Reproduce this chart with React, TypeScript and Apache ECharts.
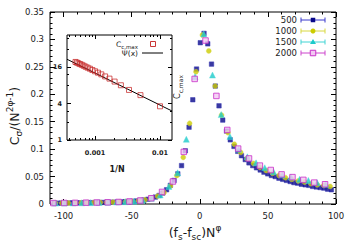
import React, { useEffect, useRef } from "react";
import * as echarts from "echarts";

// ---------- tick values ----------
const X_MAJOR = [-100, -50, 0, 50, 100];
const INSET_X_MAJOR = [0.001, 0.01];
const INSET_X_MINOR = [0.0004, 0.0005, 0.0006, 0.0007, 0.0008, 0.0009, 0.002, 0.003, 0.004, 0.005, 0.006, 0.007, 0.008, 0.009];
const INSET_Y_MAJOR = [1, 4, 16];
const INSET_Y_MINOR = [2, 3, 8, 12, 32, 48];

// ---------- main data ----------
const N_LABELS = ["500", "1000", "1500", "2000"];

const X_500 = [-106.9, -104.15, -101.4, -98.65, -95.9, -93.15, -90.4, -87.65, -84.9, -82.15, -79.4, -76.65, -73.9, -71.15, -68.4, -65.65, -62.9, -60.15, -57.4, -54.65, -51.9, -49.15, -46.4, -43.65, -40.9, -38.15, -35.4, -32.65, -29.9, -27.15, -24.4, -21.65, -18.9, -16.15, -13.4, -10.65, -7.9, -5.15, -2.4, 0.35, 3.1, 5.85, 8.6, 11.35, 14.1, 16.85, 19.6, 22.35, 25.1, 27.85, 30.6, 33.35, 36.1, 38.85, 41.6, 44.35, 47.1, 49.85, 52.6, 55.35, 58.1, 60.85, 63.6, 66.35, 69.1, 71.85, 74.6, 77.35, 80.1, 82.85, 85.6, 88.35, 91.1, 93.85, 96.6];
const Y_500 = [0.0015, 0.0016, 0.0017, 0.0018, 0.0019, 0.002, 0.0021, 0.0022, 0.0023, 0.0024, 0.0025, 0.0026, 0.0027, 0.0029, 0.003, 0.0032, 0.0034, 0.0036, 0.0039, 0.0042, 0.0046, 0.005, 0.0056, 0.0064, 0.0074, 0.0087, 0.0104, 0.0126, 0.0155, 0.02, 0.026, 0.034, 0.043, 0.055, 0.07, 0.097, 0.14, 0.19, 0.246, 0.294, 0.311, 0.292, 0.255, 0.215, 0.179, 0.153, 0.133, 0.117, 0.105, 0.096, 0.088, 0.081, 0.075, 0.07, 0.066, 0.062, 0.058, 0.055, 0.052, 0.05, 0.047, 0.045, 0.043, 0.041, 0.039, 0.038, 0.036, 0.035, 0.034, 0.032, 0.031, 0.03, 0.029, 0.027, 0.026];

const X_1000 = [-105.97, -101.28, -96.59, -91.9, -87.21, -82.52, -77.83, -73.14, -68.45, -63.76, -59.07, -54.38, -49.69, -45.0, -40.31, -35.62, -30.93, -26.24, -21.55, -16.86, -12.17, -7.48, -2.79, 1.9, 6.59, 11.28, 15.97, 20.66, 25.35, 30.04, 34.73, 39.42, 44.11, 48.8, 53.49, 58.18, 62.87, 67.56, 72.25, 76.94, 81.63, 86.32, 91.01, 95.7];
const Y_1000 = [0.0015, 0.0017, 0.0018, 0.002, 0.0022, 0.0024, 0.0026, 0.0028, 0.003, 0.0033, 0.0037, 0.0042, 0.0049, 0.006, 0.0076, 0.0101, 0.0143, 0.021, 0.033, 0.052, 0.085, 0.147, 0.241, 0.308, 0.279, 0.215, 0.162, 0.13, 0.109, 0.094, 0.083, 0.074, 0.067, 0.061, 0.056, 0.052, 0.048, 0.045, 0.042, 0.04, 0.037, 0.035, 0.034, 0.032];

const X_1500 = [-105.9, -99.5, -93.1, -86.7, -80.3, -73.9, -67.5, -61.1, -54.7, -48.3, -41.9, -35.5, -29.1, -22.7, -16.3, -9.9, -3.5, 2.9, 9.3, 15.7, 22.1, 28.5, 34.9, 41.3, 47.7, 54.1, 60.5, 66.9, 73.3, 79.7, 86.1, 92.5];
const Y_1500 = [0.0016, 0.0018, 0.002, 0.0022, 0.0025, 0.0028, 0.0031, 0.0036, 0.0042, 0.0052, 0.0069, 0.0103, 0.0165, 0.032, 0.057, 0.118, 0.232, 0.31, 0.235, 0.163, 0.123, 0.1, 0.086, 0.075, 0.066, 0.059, 0.053, 0.049, 0.045, 0.043, 0.039, 0.036];

const X_2000 = [-107.52, -99.54, -91.56, -83.58, -75.6, -67.62, -59.64, -51.66, -43.68, -35.7, -27.72, -19.74, -11.76, -3.78, 4.2, 12.18, 20.16, 28.14, 36.12, 44.1, 52.08, 60.06, 68.04, 76.02, 84.0, 91.98];
const Y_2000 = [0.0017, 0.0019, 0.0021, 0.0024, 0.0027, 0.0031, 0.0037, 0.0046, 0.0064, 0.0105, 0.022, 0.041, 0.095, 0.228, 0.298, 0.197, 0.135, 0.101, 0.083, 0.07, 0.062, 0.054, 0.049, 0.044, 0.039, 0.036];

// ---------- inset data ----------
const INSET_N = [100, 200, 300, 400, 500, 600, 700, 800, 900, 1000, 1100, 1200, 1300, 1400, 1500, 1600, 1700, 1800, 1900, 2000];
const INSET_C = [3.6, 5.5, 6.7, 8.0, 9.2, 10.3, 11.2, 12.1, 12.9, 13.6, 14.3, 15.0, 15.6, 16.2, 16.8, 17.4, 17.9, 18.4, 18.9, 19.4];
const FIT_X = [0.00037, 0.0153];
const FIT_Y = [21.5, 3.01];

const FONT = "DejaVu Sans";
const TXT = "#1a1a1a";

const STYLES = [
  { symbol: "rect", size: 4.5, color: "#08088a", border: "#3434b4", bw: 0.6, legend: "#3a3acc" },
  { symbol: "circle", size: 5, color: "#cccc00", border: "#dada40", bw: 0.5, legend: "#d8d840" },
  { symbol: "triangle", size: 6, color: "#1ccaca", border: "#50dada", bw: 0.5, legend: "#40d4d4" },
  { symbol: "rect", size: 5.5, color: "#f2c8f2", border: "#c830c8", bw: 1, legend: "#cc44cc" },
];

export default function App() {
  const ref = useRef<HTMLDivElement>(null);

  useEffect(() => {
    const chart = echarts.init(ref.current!, null, { renderer: "svg" });
    const tickLine = { color: "#000", width: 1 };
    const noLine = { show: false, onZero: false };

    const mainX = (pos: string, major: boolean) => ({
      gridIndex: 0,
      type: "value",
      min: -110,
      max: 100,
      position: pos,
      ...(major ? {} : { interval: 10 }),
      axisLine: noLine,
      splitLine: { show: false },
      axisTick: major
        ? { show: true, inside: true, length: 5, customValues: X_MAJOR, lineStyle: tickLine }
        : { show: true, inside: true, length: 2.5, lineStyle: tickLine },
      axisLabel:
        pos === "bottom" && major
          ? { show: true, customValues: X_MAJOR, fontSize: 8.5, fontFamily: FONT, color: TXT, margin: 7 }
          : { show: false },
    });

    const mainY = (pos: string) => ({
      gridIndex: 0,
      type: "value",
      min: 0,
      max: 0.35,
      interval: 0.05,
      position: pos,
      axisLine: noLine,
      splitLine: { show: false },
      axisTick: { show: true, inside: true, length: 5, lineStyle: tickLine },
      minorTick: { show: true, splitNumber: 5, length: 2.5, lineStyle: tickLine },
      axisLabel:
        pos === "left"
          ? {
              show: true,
              fontSize: 8.5,
              fontFamily: FONT,
              color: TXT,
              margin: 6,
              formatter: (v: number) => String(parseFloat(v.toFixed(2))),
            }
          : { show: false },
    });

    const insetX = (pos: string, major: boolean) => ({
      gridIndex: 1,
      type: "log",
      min: 0.00037,
      max: 0.0153,
      position: pos,
      axisLine: noLine,
      splitLine: { show: false },
      minorTick: { show: false },
      axisTick: {
        show: true,
        inside: true,
        length: major ? 4 : 2,
        customValues: major ? INSET_X_MAJOR : INSET_X_MINOR,
        lineStyle: tickLine,
      },
      axisLabel:
        pos === "bottom" && major
          ? {
              show: true,
              customValues: INSET_X_MAJOR,
              fontSize: 6.5,
              fontWeight: "bold",
              fontFamily: FONT,
              color: TXT,
              margin: 9,
              formatter: (v: number) => (v < 0.005 ? "0.001" : "0.01"),
            }
          : { show: false },
    });

    const insetY = (pos: string, major: boolean) => ({
      gridIndex: 1,
      type: "log",
      min: 1,
      max: 54,
      position: pos,
      axisLine: noLine,
      splitLine: { show: false },
      minorTick: { show: false },
      axisTick: {
        show: true,
        inside: true,
        length: major ? 4 : 2,
        customValues: major ? INSET_Y_MAJOR : INSET_Y_MINOR,
        lineStyle: tickLine,
      },
      axisLabel:
        pos === "left" && major
          ? {
              show: true,
              customValues: INSET_Y_MAJOR,
              fontSize: 6.5,
              fontWeight: "bold",
              fontFamily: FONT,
              color: TXT,
              margin: 5,
            }
          : { show: false },
    });

    const mainData = [
      [X_500, Y_500],
      [X_1000, Y_1000],
      [X_1500, Y_1500],
      [X_2000, Y_2000],
    ];

    const mainSeries = mainData.map(([xs, ys], i) => ({
      type: "scatter",
      name: N_LABELS[i],
      xAxisIndex: 0,
      yAxisIndex: 0,
      symbol: STYLES[i].symbol,
      symbolSize: STYLES[i].size,
      itemStyle: { color: STYLES[i].color, borderColor: STYLES[i].border, borderWidth: STYLES[i].bw },
      data: xs.map((x, k) => [x, ys[k]]),
      z: 2 + i,
    }));

    const legendEls: any[] = [];
    N_LABELS.forEach((name, i) => {
      const y = 20 + 11 * i;
      const c = STYLES[i].legend;
      legendEls.push({
        type: "text",
        x: 297,
        y,
        style: { text: name, fontSize: 8.5, fontFamily: FONT, fill: TXT, align: "right", verticalAlign: "middle" },
      });
      legendEls.push({ type: "line", shape: { x1: 301, y1: y, x2: 325, y2: y }, style: { stroke: c, lineWidth: 1 } });
      legendEls.push({ type: "line", shape: { x1: 301, y1: y - 2.5, x2: 301, y2: y + 2.5 }, style: { stroke: c, lineWidth: 1 } });
      legendEls.push({ type: "line", shape: { x1: 325, y1: y - 2.5, x2: 325, y2: y + 2.5 }, style: { stroke: c, lineWidth: 1 } });
      if (i === 0) {
        legendEls.push({ type: "rect", shape: { x: 310.75, y: y - 2.25, width: 4.5, height: 4.5 }, style: { fill: STYLES[0].color } });
      } else if (i === 1) {
        legendEls.push({ type: "circle", shape: { cx: 313, cy: y, r: 2.5 }, style: { fill: STYLES[1].color } });
      } else if (i === 2) {
        legendEls.push({
          type: "polygon",
          shape: { points: [[313, y - 3], [310, y + 2], [316, y + 2]] },
          style: { fill: STYLES[2].color },
        });
      } else {
        legendEls.push({
          type: "rect",
          shape: { x: 310.25, y: y - 2.75, width: 5.5, height: 5.5 },
          style: { fill: STYLES[3].color, stroke: STYLES[3].border, lineWidth: 1 },
        });
      }
    });

    const option: any = {
      animation: false,
      backgroundColor: "#fff",
      textStyle: { fontFamily: FONT },
      grid: [
        { left: 50, top: 12, width: 286, height: 192, show: true, borderColor: "#000", borderWidth: 1, backgroundColor: "transparent" },
        { left: 67, top: 35, width: 105, height: 105, show: true, borderColor: "#000", borderWidth: 1, backgroundColor: "#fff" },
      ],
      xAxis: [
        mainX("bottom", true),
        mainX("bottom", false),
        mainX("top", true),
        mainX("top", false),
        insetX("bottom", true),
        insetX("bottom", false),
        insetX("top", true),
        insetX("top", false),
      ],
      yAxis: [
        mainY("left"),
        mainY("right"),
        insetY("left", true),
        insetY("left", false),
        insetY("right", true),
        insetY("right", false),
      ],
      series: [
        ...mainSeries,
        {
          type: "line",
          xAxisIndex: 4,
          yAxisIndex: 2,
          data: FIT_X.map((x, k) => [x, FIT_Y[k]]),
          showSymbol: false,
          symbol: "none",
          lineStyle: { color: "#000", width: 1 },
          z: 5,
        },
        {
          type: "scatter",
          xAxisIndex: 4,
          yAxisIndex: 2,
          symbol: "rect",
          symbolSize: 5,
          itemStyle: { color: "rgba(255,255,255,0)", borderColor: "#c42020", borderWidth: 0.9 },
          data: INSET_N.map((n, k) => [1 / n, INSET_C[k]]),
          z: 6,
        },
      ],
      graphic: [
        // main axis titles
        {
          type: "text",
          x: 195,
          y: 232,
          style: {
            text: "(f{sub|s}-f{sub|sc})N{sup|φ}",
            fontSize: 12.5,
            fontFamily: FONT,
            fill: TXT,
            align: "center",
            verticalAlign: "middle",
            lineHeight: 18,
            rich: {
              sub: { fontSize: 9, fontFamily: FONT, fill: TXT, verticalAlign: "bottom", lineHeight: 9 },
              sup: { fontSize: 9, fontFamily: FONT, fill: TXT, verticalAlign: "top", lineHeight: 9 },
            },
          },
        },
        {
          type: "text",
          x: 14,
          y: 116,
          rotation: Math.PI / 2,
          style: {
            text: "C{sub|σ}/(N{sup|2φ-1})",
            fontSize: 12.5,
            fontFamily: FONT,
            fill: TXT,
            align: "center",
            verticalAlign: "middle",
            lineHeight: 18,
            rich: {
              sub: { fontSize: 9, fontFamily: FONT, fill: TXT, verticalAlign: "bottom", lineHeight: 9 },
              sup: { fontSize: 9, fontFamily: FONT, fill: TXT, verticalAlign: "top", lineHeight: 9 },
            },
          },
        },
        // inset axis titles
        {
          type: "text",
          x: 117,
          y: 169,
          style: { text: "1/N", fontSize: 8, fontWeight: "bold", fontFamily: FONT, fill: TXT, align: "center", verticalAlign: "middle" },
        },
        {
          type: "text",
          x: 177,
          y: 87,
          rotation: Math.PI / 2,
          style: {
            text: "C{sub|c,max}",
            fontSize: 8,
            fontFamily: FONT,
            fill: TXT,
            align: "center",
            verticalAlign: "middle",
            lineHeight: 12,
            rich: { sub: { fontSize: 6, fontFamily: FONT, fill: TXT, verticalAlign: "bottom", lineHeight: 6 } },
          },
        },
        // inset legend
        {
          type: "text",
          x: 138,
          y: 44,
          style: {
            text: "C{sub|c,max}",
            fontSize: 7.5,
            fontFamily: FONT,
            fill: TXT,
            align: "right",
            verticalAlign: "middle",
            lineHeight: 11,
            rich: { sub: { fontSize: 5.5, fontFamily: FONT, fill: TXT, verticalAlign: "bottom", lineHeight: 5.5 } },
          },
        },
        {
          type: "rect",
          shape: { x: 150.5, y: 41.5, width: 5, height: 5 },
          style: { fill: "none", stroke: "#c42020", lineWidth: 0.9 },
        },
        {
          type: "text",
          x: 138,
          y: 53,
          style: { text: "Ψ(x)", fontSize: 7.5, fontFamily: FONT, fill: TXT, align: "right", verticalAlign: "middle" },
        },
        { type: "line", shape: { x1: 142, y1: 53, x2: 163, y2: 53 }, style: { stroke: "#000", lineWidth: 1 } },
        ...legendEls,
      ],
    };

    chart.setOption(option);
    return () => chart.dispose();
  }, []);

  return (
    <div
      ref={ref}
      style={{ position: "fixed", left: 0, top: 0, width: 350, height: 250, background: "#fff" }}
    />
  );
}
